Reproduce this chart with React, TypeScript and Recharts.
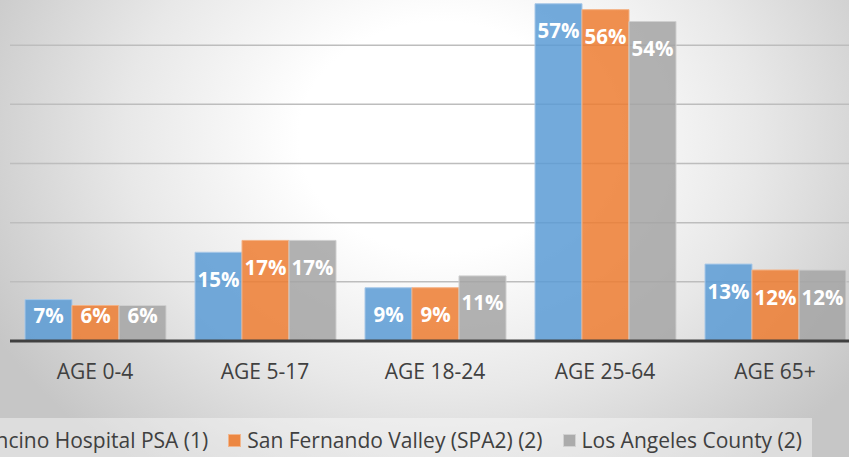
import * as React from 'react'
import { BarChart, Bar, XAxis, YAxis, CartesianGrid, LabelList } from 'recharts'

const categories = ['AGE 0-4', 'AGE 5-17', 'AGE 18-24', 'AGE 25-64', 'AGE 65+']
const encino = [7, 15, 9, 57, 13]
const sanFernando = [6, 17, 9, 56, 12]
const laCounty = [6, 17, 11, 54, 12]
const yTicks = [0, 10, 20, 30, 40, 50, 60]

const seriesNames = [
  'Encino Hospital PSA (1)',
  'San Fernando Valley (SPA2) (2)',
  'Los Angeles County (2)',
]

const series = [
  { key: 'encino', name: seriesNames[0], fill: '#5b9bd5', stroke: '#a8c8e8' },
  { key: 'sanFernando', name: seriesNames[1], fill: '#ed7d31', stroke: '#f4b183' },
  { key: 'laCounty', name: seriesNames[2], fill: '#a5a5a5', stroke: '#cfcfcf' },
]

const data = categories.map((c, i) => ({
  category: c,
  encino: encino[i],
  sanFernando: sanFernando[i],
  laCounty: laCounty[i],
}))

const FONT = '"Open Sans", "DejaVu Sans", sans-serif'

function AxisTick(props: any) {
  const { x, y, payload } = props
  return (
    <text
      x={x}
      y={y}
      dy={38}
      textAnchor="middle"
      fill="#404040"
      fontSize={21}
      fontFamily={FONT}
    >
      {payload.value}
    </text>
  )
}

function BarLabel(props: any) {
  const { x, y, width, height, value } = props
  const bottom = y + height
  // Excel's "inside end": sits near the top, lifted for short bars
  const cy = Math.min(y + 27, bottom - 25.5)
  return (
    <text
      x={x + width / 2}
      y={cy}
      dy={7.5}
      textAnchor="middle"
      fill="#ffffff"
      fontSize={20.5}
      fontWeight={700}
      fontFamily={FONT}
    >
      {value}%
    </text>
  )
}

export default function App() {
  return (
    <div
      style={{
        position: 'absolute',
        left: 0,
        top: 0,
        width: 849,
        height: 457,
        overflow: 'hidden',
        background:
          'radial-gradient(ellipse 60% 90% at 52% 30%, #ffffff 28%, #e8e8e8 62%, #c6c6c6 100%)',
        fontFamily: FONT,
      }}
    >
      <div style={{ position: 'absolute', left: 0, top: -24 }}>
        <BarChart
          width={860}
          height={425}
          data={data}
          margin={{ top: 10, right: 0, bottom: 0, left: 10 }}
          barGap={0}
          barCategoryGap={15}
        >
          <CartesianGrid vertical={false} stroke="#bdbdbd" strokeWidth={1.5} />
          <YAxis hide domain={[0, 60]} ticks={yTicks} />
          <XAxis
            dataKey="category"
            height={60}
            tickSize={0}
            tickMargin={0}
            tickLine={false}
            axisLine={{ stroke: '#404040', strokeWidth: 3 }}
            tick={<AxisTick />}
            interval={0}
          />
          {series.map((s) => (
            <Bar
              key={s.key}
              dataKey={s.key}
              name={s.name}
              fill={s.fill}
              fillOpacity={0.85}
              stroke={s.stroke}
              strokeWidth={1}
              isAnimationActive={false}
            >
              <LabelList dataKey={s.key} content={<BarLabel />} />
            </Bar>
          ))}
        </BarChart>
      </div>
      <div
        style={{
          position: 'absolute',
          top: 420,
          right: 849 - 812,
          height: 44,
          width: 1000,
          background: 'rgba(255,255,255,0.4)',
          display: 'flex',
          justifyContent: 'flex-end',
          alignItems: 'center',
          paddingRight: 10,
          boxSizing: 'border-box',
          gap: 20,
          fontSize: 21,
          color: '#404040',
          whiteSpace: 'nowrap',
          marginTop: -2,
        }}
      >
        {series.map((s) => (
          <div key={s.key} style={{ display: 'flex', alignItems: 'center', gap: 6 }}>
            <span
              style={{
                width: 13,
                height: 13,
                boxSizing: 'border-box',
                background: s.fill,
                opacity: 0.9,
                border: `1px solid ${s.stroke}`,
              }}
            />
            <span>{s.name}</span>
          </div>
        ))}
      </div>
    </div>
  )
}
